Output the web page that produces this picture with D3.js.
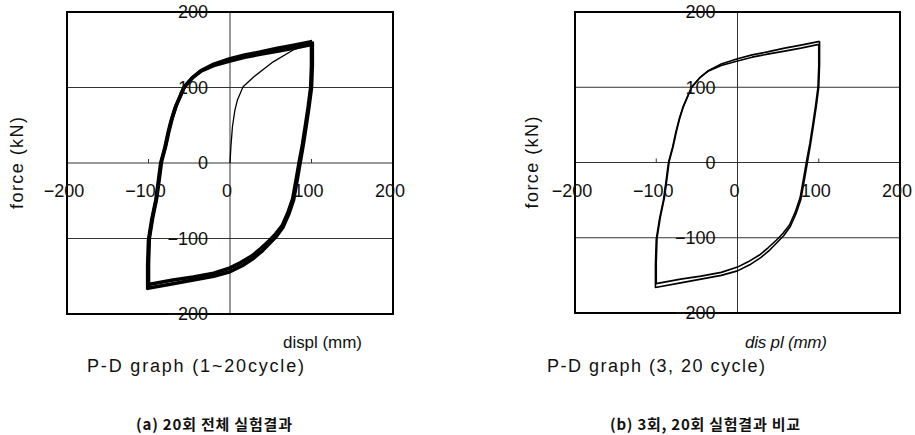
<!DOCTYPE html>
<html>
<head>
<meta charset="utf-8">
<script src="https://cdn.jsdelivr.net/npm/d3@7"></script>
<style>
  body { margin: 0; background: #fff; }
  svg { display: block; }
  .num { font-family: "Liberation Sans", Arial, sans-serif; font-size: 18px; fill: #111; }
  .lbl { font-family: "Liberation Sans", Arial, sans-serif; font-size: 17px; fill: #111; }
  .sub { font-family: "Liberation Sans", Arial, sans-serif; font-size: 18px; fill: #111; }
  .cap { font-family: "Noto Sans CJK KR", sans-serif; font-size: 15px; font-weight: bold; fill: #111; }
</style>
</head>
<body>
<script>
// axis ticks
const xTicks = [-200, -100, 0, 100, 200];
const yTicks = [200, 100, 0, -100, -200];

// initial loading (cycle 1)
const initDisp  = [0, 1, 3, 6, 9, 16, 29, 53, 78, 101];
const initForce = [0, 20, 48, 70, 83, 101, 114, 134, 150, 159];

// cycle 3 loop
const c3Disp  = [101,101,100,97,94,90,86,82,78,72,65,57,49,40,29,15,0,-20,-45,-70,-101,-101,-100,-96,-91,-88,-85,-80,-76,-72,-67,-57,-47,-36,-20,0,18,37,58,78,101];
const c3Force = [161,130,100,75,53,25,0,-25,-49,-68,-85,-97,-106,-116,-126,-136,-144,-150,-155,-160,-166,-135,-102,-75,-49,-25,0,20,40,57,74,99,112,122,131,138,143,147,152,156,161];

// cycle 20 loop
const c20Disp  = [100,100,99,96,93,89,85,81,77,71,64,56,48,38,27,13,0,-20,-45,-70,-100,-100,-99,-95,-90,-87,-84,-79,-75,-71,-66,-56,-46,-35,-20,0,18,37,58,78,100];
const c20Force = [157,128,100,75,53,25,2,-23,-47,-66,-83,-94,-103,-113,-123,-132,-139,-146,-151,-155,-161,-133,-100,-73,-47,-23,2,22,42,59,76,101,113,122,129,135,140,144,148,152,157];

const W = 915, H = 435;
const svg = d3.select("body").append("svg").attr("width", W).attr("height", H);

const fmt = d => String(d).replace("-", "\u2212");

const drawPanel = (left, right, top, bottom, titleX, series) => {
  const x = d3.scaleLinear().domain([-200, 200]).range([left, right]);
  const y = d3.scaleLinear().domain([-200, 200]).range([bottom, top]);
  const g = svg.append("g");

  // grid
  g.selectAll(".hg").data([100, 0, -100]).enter().append("line")
    .attr("x1", left).attr("x2", right)
    .attr("y1", d => y(d)).attr("y2", d => y(d))
    .attr("stroke", "#333").attr("stroke-width", 1);
  g.append("line")
    .attr("x1", x(0)).attr("x2", x(0)).attr("y1", top).attr("y2", bottom)
    .attr("stroke", "#333").attr("stroke-width", 1);
  g.selectAll(".tk").data([-100, 100]).enter().append("line")
    .attr("x1", d => x(d)).attr("x2", d => x(d))
    .attr("y1", y(0)).attr("y2", y(0) - 4)
    .attr("stroke", "#333").attr("stroke-width", 1);

  // frame
  g.append("rect")
    .attr("x", left).attr("y", top).attr("width", right - left).attr("height", bottom - top)
    .attr("fill", "none").attr("stroke", "#000").attr("stroke-width", 2);

  const line = d3.line().x(d => x(d[0])).y(d => y(d[1]));
  series.forEach(s => {
    g.append("path")
      .datum(d3.zip(s.disp, s.force))
      .attr("d", line)
      .attr("fill", "none")
      .attr("stroke", "#000")
      .attr("stroke-width", s.w)
      .attr("stroke-linejoin", "round");
  });

  // tick labels
  g.selectAll(".yl").data(yTicks).enter().append("text")
    .attr("class", "num")
    .attr("x", x(0) - 22).attr("y", d => y(d)).attr("dy", "0.36em")
    .attr("text-anchor", "end")
    .text(fmt);
  g.selectAll(".xl").data(xTicks).enter().append("text")
    .attr("class", "num")
    .attr("x", d => x(d) - 3).attr("y", y(0) + 34)
    .attr("text-anchor", "middle")
    .text(fmt);

  // y title
  g.append("text")
    .attr("class", "sub")
    .attr("transform", `translate(${titleX},${(top + bottom) / 2}) rotate(-90)`)
    .attr("text-anchor", "middle")
    .attr("dy", "0.35em")
    .attr("textLength", 92).attr("lengthAdjust", "spacing")
    .text("force (kN)");
};

drawPanel(67, 393, 12, 314, 17, [
  { disp: initDisp, force: initForce, w: 1.3 },
  { disp: c3Disp, force: c3Force, w: 3.6 },
  { disp: c20Disp, force: c20Force, w: 3.6 }
]);
drawPanel(575, 900, 12, 313, 532, [
  { disp: c3Disp, force: c3Force, w: 1.6 },
  { disp: c20Disp, force: c20Force, w: 1.6 }
]);

// texts under the panels
const addText = (cls, x0, len, yb, str, italic) => {
  const t = svg.append("text").attr("class", cls)
    .attr("x", x0).attr("y", yb)
    .attr("textLength", len).attr("lengthAdjust", "spacing")
    .text(str);
  if (italic) t.attr("font-style", "italic");
};
addText("lbl", 283, 79, 348, "displ (mm)");
addText("sub", 87, 217, 372, "P-D graph (1~20cycle)");
addText("cap", 136, 156, 430, "(a) 20회 전체 실험결과");
addText("lbl", 745, 82, 348, "dis pl (mm)", true);
addText("sub", 547, 218, 372, "P-D graph (3, 20 cycle)");
addText("cap", 610, 190, 430, "(b) 3회, 20회 실험결과 비교");
</script>
</body>
</html>
